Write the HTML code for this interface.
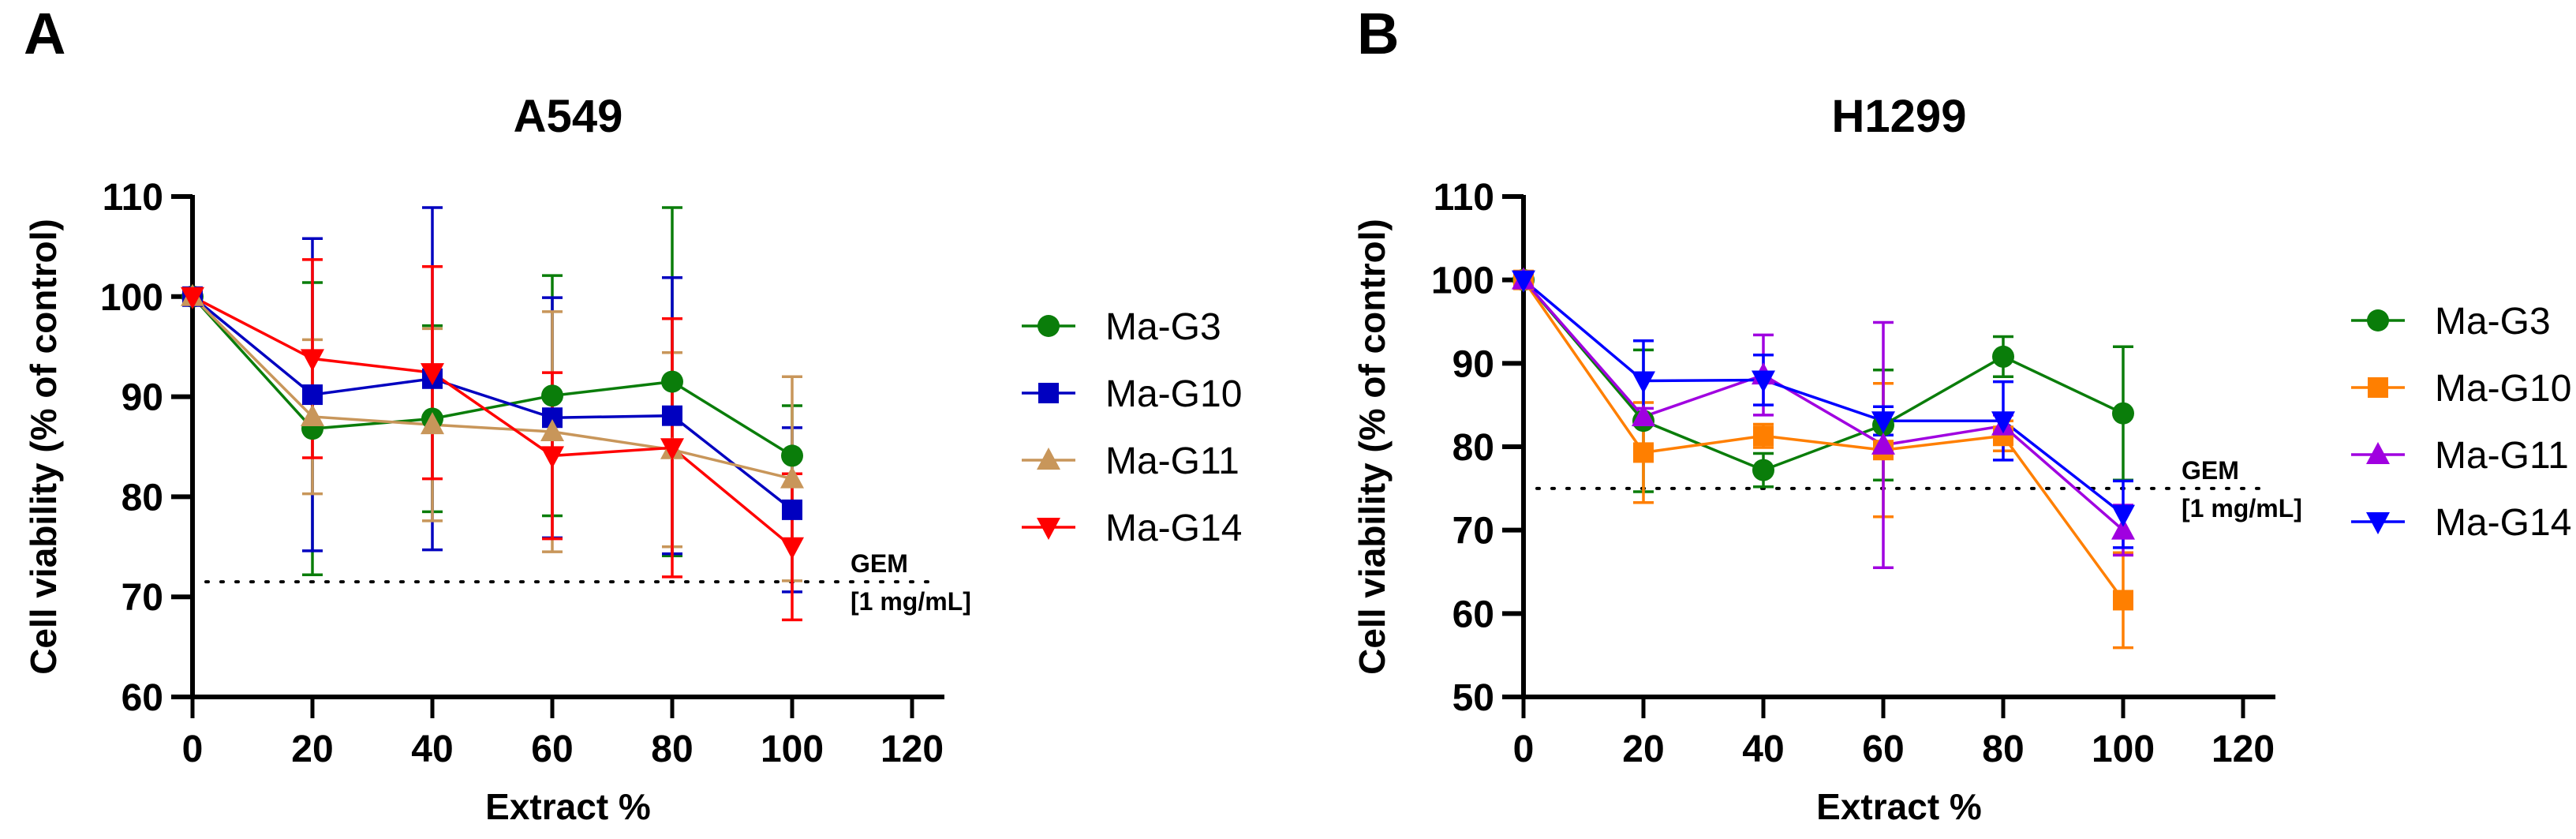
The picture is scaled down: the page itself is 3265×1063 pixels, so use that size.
<!DOCTYPE html>
<html><head><meta charset="utf-8">
<style>
html,body{margin:0;padding:0;background:#fff;}
svg{display:block;font-family:"Liberation Sans",Arial,sans-serif;}
</style></head>
<body>
<svg id="fig" width="3265" height="1063" viewBox="0 0 3265 1063" xmlns="http://www.w3.org/2000/svg"></svg>
<script>
// ---------- data ----------
const xValues = [0, 20, 40, 60, 80, 100];
const xTicks = [0, 20, 40, 60, 80, 100, 120];
const seriesNames = ["Ma-G3", "Ma-G10", "Ma-G11", "Ma-G14"];

const a549Ticks = [60, 70, 80, 90, 100, 110];
const a549G3 = [100, 86.8, 87.8, 90.1, 91.5, 84.1];
const a549G3Err = [0, 14.6, 9.3, 12, 17.4, 5];
const a549G10 = [100, 90.2, 91.8, 87.9, 88.1, 78.7];
const a549G10Err = [0, 15.6, 17.1, 12, 13.8, 8.2];
const a549G11 = [100, 88, 87.2, 86.5, 84.7, 81.8];
const a549G11Err = [0, 7.7, 9.6, 12, 9.7, 10.2];
const a549G14 = [100, 93.8, 92.4, 84.1, 84.9, 75];
const a549G14Err = [0, 9.9, 10.6, 8.3, 12.9, 7.3];
const a549Gem = 71.5;

const h1299Ticks = [50, 60, 70, 80, 90, 100, 110];
const h1299G3 = [100, 83.1, 77.2, 82.6, 90.8, 84];
const h1299G3Err = [0, 8.5, 2, 6.6, 2.4, 8];
const h1299G10 = [100, 79.3, 81.3, 79.6, 81.3, 61.6];
const h1299G10Err = [0, 6, 1.4, 8, 1.8, 5.7];
const h1299G11 = [100, 83.6, 88.6, 80.2, 82.5, 70];
const h1299G11Err = [0, 1, 4.8, 14.7, 1.3, 3];
const h1299G14 = [100, 87.9, 88, 83.1, 83.1, 71.9];
const h1299G14Err = [0, 4.8, 3, 1.7, 4.7, 4];
const h1299Gem = 75;

// ---------- drawing ----------
const NS = "http://www.w3.org/2000/svg";
const svg = document.getElementById("fig");
function el(tag, attrs, parent) {
  const e = document.createElementNS(NS, tag);
  for (const k in attrs) e.setAttribute(k, attrs[k]);
  (parent || svg).appendChild(e);
  return e;
}
function txt(content, attrs, parent) {
  const t = el("text", attrs, parent);
  t.textContent = content;
  return t;
}

function marker(g, shape, cx, cy, color) {
  let m;
  if (shape === "circle") {
    m = el("circle", {cx: cx, cy: cy, r: 14, fill: color}, g);
  } else if (shape === "square") {
    m = el("rect", {x: cx - 13, y: cy - 13, width: 26, height: 26, fill: color}, g);
  } else if (shape === "up") {
    m = el("polygon", {points: `${cx},${cy - 16} ${cx - 15},${cy + 12} ${cx + 15},${cy + 12}`, fill: color}, g);
  } else {
    m = el("polygon", {points: `${cx},${cy + 16} ${cx - 15},${cy - 12} ${cx + 15},${cy - 12}`, fill: color}, g);
  }
  return m;
}

function panel(cfg) {
  const g = el("g", {});
  
  
  const x0 = cfg.axX, yTop = 249, yBot = 883;
  const pxPerX = 7.6;
  const xs = v => x0 + v * pxPerX;
  const yMin = cfg.ticks[0], yMax = cfg.ticks[cfg.ticks.length - 1];
  const ys = v => yBot - (v - yMin) / (yMax - yMin) * (yBot - yTop);

  const lbl = txt(cfg.letter, {x: cfg.letterX, y: 68, "font-size": 74, "font-weight": "bold"}, g);
  
  

  const title = txt(cfg.title, {x: x0 + 476, y: 167, "font-size": 58, "font-weight": "bold", "text-anchor": "middle"}, g);
  
  

  // axes
  const yAxis = el("line", {x1: x0, y1: yTop - 2, x2: x0, y2: yBot + 3, stroke: "#000", "stroke-width": 6}, g);
  
  
  const xAxis = el("line", {x1: x0 - 27, y1: yBot, x2: x0 + 953, y2: yBot, stroke: "#000", "stroke-width": 6}, g);
  
  

  cfg.ticks.forEach(t => {
    const y = ys(t);
    const tk = el("line", {x1: x0 - 27, y1: y, x2: x0, y2: y, stroke: "#000", "stroke-width": 6}, g);
    
    
    const tl = txt(String(t), {x: x0 - 37, y: y + 17, "font-size": 48, "font-weight": "bold", "text-anchor": "end"}, g);
    
    
  });
  xTicks.forEach(t => {
    const x = xs(t);
    const tk = el("line", {x1: x, y1: yBot, x2: x, y2: yBot + 27, stroke: "#000", "stroke-width": 5}, g);
    
    
    const tl = txt(String(t), {x: x, y: 965, "font-size": 48, "font-weight": "bold", "text-anchor": "middle"}, g);
    
    
  });
  const xt = txt("Extract %", {x: x0 + 476, y: 1038, "font-size": 46, "font-weight": "bold", "text-anchor": "middle"}, g);
  
  
  const ytX = cfg.yTitleX, ytY = 566;
  const yt = txt("Cell viability (% of control)", {x: ytX, y: ytY, "font-size": 46, "font-weight": "bold", "text-anchor": "middle", transform: `rotate(-90 ${ytX} ${ytY})`, dy: 16}, g);
  
  

  // GEM reference line
  const gy = ys(cfg.gem);
  const gl = el("line", {x1: x0 + 17, y1: gy, x2: x0 + 934, y2: gy, stroke: "#000", "stroke-width": 4, "stroke-dasharray": "3 16", "stroke-linecap": "round"}, g);
  
  
  const gt = txt("GEM", {x: x0 + 834, y: gy - 12, "font-size": 32, "font-weight": "bold"}, g);
  
  
  const gt2 = txt("[1 mg/mL]", {x: x0 + 834, y: gy + 36, "font-size": 32, "font-weight": "bold"}, g);
  
  

  // series: error bars first, then lines, then markers
  cfg.series.forEach((s, si) => {
    const sg = el("g", {}, g);
    
    
    s.vals.forEach((v, i) => {
      const e = s.err[i];
      if (!e) return;
      const x = xs(xValues[i]);
      const eb = el("path", {d: `M${x},${ys(v - e)}V${ys(v + e)}M${x - 13},${ys(v - e)}h26M${x - 13},${ys(v + e)}h26`, stroke: s.color, "stroke-width": 3.5, fill: "none"}, sg);
      
      
    });
  });
  cfg.series.forEach((s, si) => {
    const pts = s.vals.map((v, i) => xs(xValues[i]) + "," + ys(v)).join(" ");
    const pl = el("polyline", {points: pts, fill: "none", stroke: s.color, "stroke-width": 3.5}, g);
    
    
  });
  cfg.series.forEach((s, si) => {
    s.vals.forEach((v, i) => {
      const m = marker(g, s.shape, xs(xValues[i]), ys(v), s.color);
      
      
    });
  });

  // legend
  const lg = el("g", {}, g);
  
  
  cfg.series.forEach((s, si) => {
    const ly = cfg.legY + si * 85;
    const lx = cfg.legX;
    const eg = el("g", {}, lg);
    
    
    el("line", {x1: lx - 34, y1: ly, x2: lx + 34, y2: ly, stroke: s.color, "stroke-width": 3.5}, eg);
    marker(eg, s.shape, lx, ly, s.color);
    txt(seriesNames[si], {x: lx + 72, y: ly + 17, "font-size": 48}, eg);
  });
}

panel({
  id: "a549", letter: "A", letterX: 30, title: "A549", axX: 244, yTitleX: 55,
  ticks: a549Ticks, gem: a549Gem, legX: 1329, legY: 413,
  series: [
    {vals: a549G3, err: a549G3Err, color: "#0a7d0a", shape: "circle"},
    {vals: a549G10, err: a549G10Err, color: "#0000c0", shape: "square"},
    {vals: a549G11, err: a549G11Err, color: "#c8965a", shape: "up"},
    {vals: a549G14, err: a549G14Err, color: "#ff0000", shape: "down"}
  ]
});
panel({
  id: "h1299", letter: "B", letterX: 1720, title: "H1299", axX: 1931, yTitleX: 1739,
  ticks: h1299Ticks, gem: h1299Gem, legX: 3014, legY: 406,
  series: [
    {vals: h1299G3, err: h1299G3Err, color: "#0a7d0a", shape: "circle"},
    {vals: h1299G10, err: h1299G10Err, color: "#ff7f00", shape: "square"},
    {vals: h1299G11, err: h1299G11Err, color: "#a000e0", shape: "up"},
    {vals: h1299G14, err: h1299G14Err, color: "#0000ff", shape: "down"}
  ]
});
</script>
</body></html>
